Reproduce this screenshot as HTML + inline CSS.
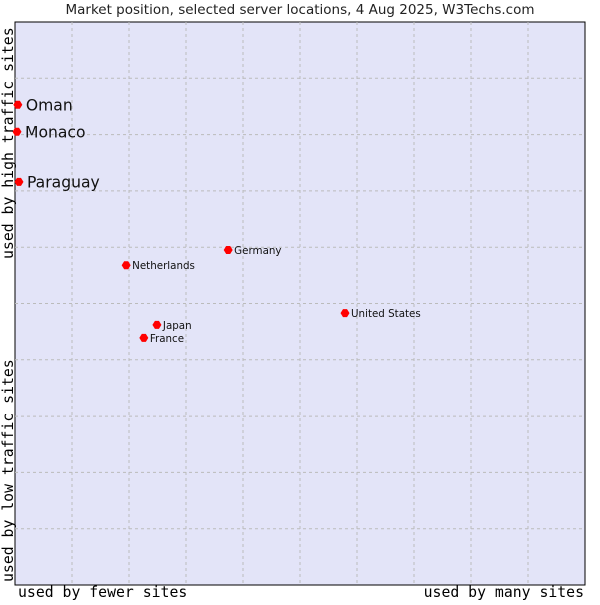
<!DOCTYPE html>
<html><head><meta charset="utf-8"><style>
body{margin:0;background:#fff;width:600px;height:600px;overflow:hidden}
svg text{font-family:"DejaVu Sans","Liberation Sans",sans-serif}
.mono{font-family:"DejaVu Sans Mono","Liberation Mono",monospace}
</style></head><body>
<svg id="c" width="600" height="600">
<text x="300" y="14" text-anchor="middle" font-size="13.5" fill="#222">Market position, selected server locations, 4 Aug 2025, W3Techs.com</text>
<rect x="15" y="22" width="570" height="563" fill="#e3e4f8" stroke="#000" stroke-width="1"/>
<g id="grid"></g>
<g id="pts"></g>
<text class="mono" x="18" y="597" font-size="14.8" fill="#000">used by fewer sites</text>
<text class="mono" x="584" y="597" font-size="14.8" fill="#000" text-anchor="end">used by many sites</text>
<text class="mono" transform="translate(13,259) rotate(-90)" font-size="14.8" fill="#000">used by high traffic sites</text>
<text class="mono" transform="translate(13,582) rotate(-90)" font-size="14.8" fill="#000">used by low traffic sites</text>
</svg>
<script>
const names=["Oman","Monaco","Paraguay","Netherlands","Germany","United States","Japan","France"];
const xs=[0.5,0.35,0.7,19.5,37.4,57.9,24.9,22.6];
const ys=[85.3,80.5,71.6,56.8,59.5,48.3,46.2,43.9];
const big=[true,true,true,false,false,false,false,false];
const NS="http://www.w3.org/2000/svg";
const X=v=>15+v/100*570, Y=v=>585-v/100*563;
const grid=document.getElementById('grid'), pts=document.getElementById('pts');
for(let i=1;i<10;i++){
  const v=document.createElementNS(NS,'line');
  v.setAttribute('x1',X(i*10));v.setAttribute('x2',X(i*10));v.setAttribute('y1',22);v.setAttribute('y2',585);
  v.setAttribute('stroke','#bbb');v.setAttribute('stroke-dasharray','3,3');
  
  
  grid.appendChild(v);
  const h=document.createElementNS(NS,'line');
  h.setAttribute('y1',Y(i*10));h.setAttribute('y2',Y(i*10));h.setAttribute('x1',15);h.setAttribute('x2',585);
  h.setAttribute('stroke','#bbb');h.setAttribute('stroke-dasharray','3,3');
  
  
  grid.appendChild(h);
}
names.forEach((n,i)=>{
  const cx=X(xs[i]), cy=Y(ys[i]);
  const d=document.createElementNS(NS,'path');
  d.setAttribute('d',`M${cx-4.5},${cy}L${cx-2},${cy-4}L${cx+2},${cy-4}L${cx+4.5},${cy}L${cx+2},${cy+4}L${cx-2},${cy+4}Z`);
  d.setAttribute('fill','#f00');
  
  
  pts.appendChild(d);
  const t=document.createElementNS(NS,'text');
  t.setAttribute('x',cx+(big[i]?8:6));t.setAttribute('y',cy+(big[i]?5.5:4));
  t.setAttribute('font-size',big[i]?15.6:10.3);t.setAttribute('fill','#111');
  t.textContent=n;
  
  
  pts.appendChild(t);
});
</script>
</body></html>
